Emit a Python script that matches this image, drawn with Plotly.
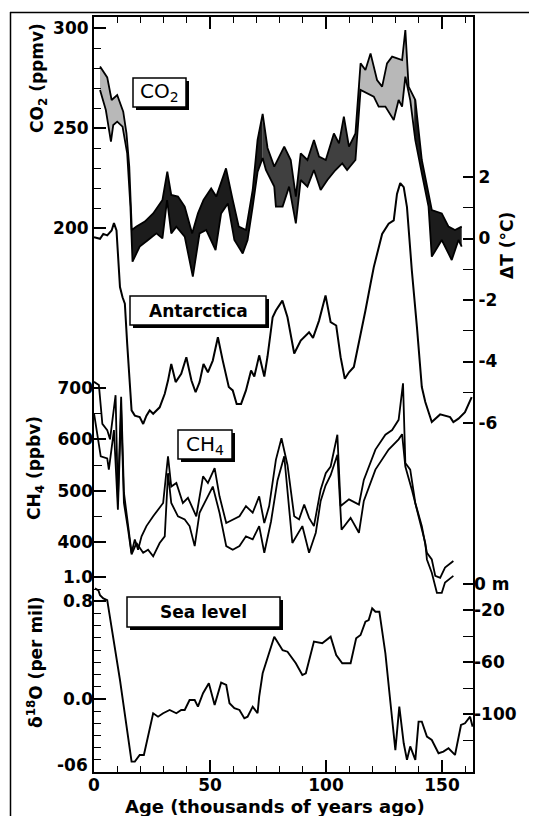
import numpy as np
import plotly.graph_objects as go

# ---------------- data ----------------
# CO2 envelope (ppmv) vs age (kyr BP)
co2_up_age = [2.6, 5.7, 7.6, 10.0, 12.6, 14.0, 15.2, 16.3, 18.3, 21.9, 25.5, 29.5, 31.6, 33.3, 36.2, 39.1,
              42.3, 44.8, 47.2, 50.5, 52.7, 56.9, 59.8, 62.4, 65.5, 68.4, 70.5, 72.7, 74.8, 77.7, 82.0, 84.8,
              87.0, 89.1, 92.0, 94.8, 97.0, 99.9, 103.4, 105.6, 107.7, 109.9, 112.7, 114.9, 117.0, 119.2,
              122.0, 124.2, 126.3, 128.5, 132.8, 134.2, 135.6, 138.5, 141.3, 143.5, 145.6, 149.9, 152.8,
              155.6, 158.5]
co2_up = [280.7, 275.3, 264.0, 266.5, 258.2, 247.3, 230.7, 199.0, 200.7, 203.2, 207.3, 214.0, 228.2, 216.5,
          215.7, 210.7, 197.3, 207.3, 214.0, 219.8, 215.7, 229.8, 214.0, 200.7, 199.0, 219.0, 244.0, 257.0,
          240.0, 230.7, 240.7, 234.0, 215.7, 237.3, 234.0, 244.0, 235.7, 234.0, 247.3, 242.3, 255.7, 240.7,
          247.3, 282.3, 279.0, 287.3, 274.0, 270.7, 282.3, 285.7, 284.0, 299.0, 270.7, 264.0, 234.0, 220.7,
          209.0, 207.3, 200.7, 199.0, 200.7]
co2_lo_age = [2.6, 5.1, 7.3, 8.3, 10.0, 12.3, 14.3, 15.7, 16.6, 19.7, 23.3, 26.9, 29.5, 31.5, 33.3, 35.5,
              39.1, 42.6, 45.5, 48.4, 52.4, 54.8, 57.7, 60.5, 64.1, 66.2, 68.4, 70.5, 72.7, 74.1, 77.7, 78.4,
              81.3, 84.1, 87.0, 89.1, 92.0, 94.8, 97.7, 100.6, 104.1, 107.0, 109.1, 112.7, 114.9, 117.7,
              120.6, 122.7, 125.6, 129.2, 131.3, 132.8, 134.2, 136.3, 138.5, 141.3, 144.2, 145.6, 149.9,
              154.2, 157.1, 158.5]
co2_lo = [269.0, 259.0, 243.2, 251.5, 253.2, 250.7, 237.3, 210.7, 183.2, 190.7, 194.0, 197.3, 194.8, 214.0,
          197.3, 200.7, 195.7, 175.7, 197.3, 199.0, 189.0, 207.3, 212.3, 194.0, 187.3, 194.0, 210.7, 228.0,
          235.0, 229.0, 220.7, 210.7, 210.7, 220.7, 202.3, 224.0, 220.7, 229.0, 219.0, 224.0, 229.0, 232.3,
          229.0, 234.0, 269.0, 267.3, 265.7, 260.7, 260.7, 254.0, 264.0, 260.7, 275.7, 264.0, 244.0, 227.3,
          210.7, 185.7, 194.0, 184.0, 194.0, 190.7]

# Antarctic temperature change (deg C)
dt_age = [0.0, 2.6, 4.0, 5.7, 7.6, 8.6, 9.7, 10.6, 11.2, 12.3, 13.3, 14.3, 15.4, 16.2, 17.6, 19.7, 21.2,
          22.6, 24.0, 25.5, 28.3, 30.5, 31.9, 33.3, 35.2, 37.6, 39.8, 42.0, 43.8, 45.5, 47.2, 49.1, 51.2,
          53.4, 55.5, 58.1, 59.8, 61.5, 63.4, 65.5, 67.7, 69.1, 71.2, 73.4, 74.8, 77.0, 78.4, 81.2, 83.4,
          86.3, 89.1, 92.7, 94.4, 97.0, 99.8, 102.0, 104.4, 106.3, 108.1, 109.9, 112.0, 114.2, 117.0,
          119.2, 120.6, 124.2, 127.0, 129.2, 130.6, 132.0, 133.5, 134.9, 136.3, 137.0, 139.2, 141.3,
          142.8, 145.6, 149.2, 151.3, 153.5, 154.9, 157.1, 159.9, 162.8]
dt_val = [0.04, -0.01, 0.15, 0.1, 0.26, 0.5, 0.26, -0.72, -1.58, -1.91, -2.12, -3.42, -4.83, -5.59, -5.76,
          -5.81, -6.03, -5.76, -5.59, -5.70, -5.49, -5.05, -4.62, -4.08, -4.67, -4.40, -3.86, -4.62, -5.0,
          -4.67, -4.08, -4.35, -3.97, -3.21, -3.97, -4.83, -4.94, -5.38, -5.38, -4.94, -4.29, -4.49, -3.80,
          -4.49, -3.83, -2.56, -2.34, -2.02, -2.56, -3.74, -3.32, -3.05, -3.23, -2.67, -1.85, -2.72, -2.83,
          -3.86, -4.56, -4.35, -4.18, -3.42, -2.34, -1.47, -0.93, 0.15, 0.48, 0.59, 1.45, 1.80, 1.67, 1.02,
          -0.50, -1.04, -2.88, -4.83, -5.32, -5.97, -5.72, -5.76, -5.81, -5.97, -5.86, -5.65, -5.16]

# CH4 (ppbv), two curves
ch4_up_age = [0.0, 2.1, 3.6, 5.7, 6.9, 9.3, 10.3, 11.7, 12.9, 14.7, 16.2, 17.6, 19.0, 20.5, 22.6, 25.5,
              29.8, 31.9, 33.3, 35.5, 38.3, 40.5, 44.1, 47.0, 49.1, 52.0, 54.1, 57.0, 59.8, 62.7, 65.5,
              68.4, 71.2, 73.4, 75.5, 78.4, 80.8, 83.4, 86.3, 88.4, 90.6, 92.7, 94.8, 97.7, 99.9, 102.0,
              104.9, 106.3, 109.9, 114.2, 116.3, 121.3, 125.6, 128.5, 131.3, 133.2, 134.2, 136.3, 138.5,
              141.3, 143.5, 145.6, 147.1, 149.2, 151.3, 154.9]
ch4_up = [712, 706, 630, 618, 600, 686, 483, 683, 496, 431, 379, 405, 385, 411, 431, 450, 476, 567, 508,
          515, 476, 486, 450, 528, 515, 544, 489, 437, 444, 450, 470, 457, 489, 437, 470, 560, 602, 550,
          450, 444, 473, 447, 431, 502, 534, 547, 609, 470, 483, 473, 521, 580, 609, 618, 638, 709, 554,
          541, 476, 431, 379, 366, 334, 330, 350, 363]
ch4_lo_age = [0.0, 2.9, 5.7, 6.4, 8.6, 10.3, 11.7, 12.9, 14.7, 16.2, 18.3, 21.2, 23.3, 25.5, 28.3, 30.5,
              31.9, 33.3, 36.2, 39.1, 41.2, 43.4, 45.5, 48.4, 51.2, 54.1, 57.0, 59.8, 62.7, 65.5, 68.4,
              71.2, 73.4, 76.3, 79.1, 82.0, 85.5, 89.8, 92.7, 95.6, 97.7, 99.8, 102.0, 104.9, 106.7, 110.6,
              114.2, 116.3, 121.3, 127.0, 131.3, 132.8, 134.2, 137.0, 139.9, 142.8, 143.5, 145.6, 147.8,
              149.9, 151.3, 154.9]
ch4_lo = [651, 567, 563, 541, 618, 463, 657, 476, 424, 376, 398, 379, 385, 372, 398, 411, 534, 476, 450,
          444, 431, 392, 457, 483, 508, 457, 392, 385, 392, 411, 405, 431, 379, 440, 520, 567, 398, 431,
          379, 418, 480, 510, 530, 570, 424, 447, 418, 480, 541, 580, 600, 610, 547, 502, 450, 398, 366,
          340, 301, 301, 321, 334]

# delta 18O (per mil) / sea level
d18o_age = [0.4, 1.9, 2.6, 4.0, 5.7, 11.2, 16.2, 17.6, 19.7, 21.5, 25.5, 27.6, 29.8, 32.6, 35.5, 37.6,
            39.1, 41.2, 43.4, 44.8, 47.0, 49.5, 52.0, 54.8, 57.0, 58.4, 60.5, 62.7, 64.8, 66.2, 68.4, 70.5,
            71.2, 72.7, 77.7, 81.3, 83.4, 87.0, 89.8, 91.3, 94.8, 98.4, 102.0, 104.4, 107.0, 110.6, 113.0,
            114.9, 117.0, 118.4, 119.9, 121.3, 123.0, 125.6, 127.8, 129.9, 131.6, 133.5, 134.9, 136.3,
            138.5, 139.9, 141.3, 143.5, 145.6, 148.5, 150.6, 152.8, 155.6, 158.2, 159.9, 162.1, 163.2]
d18o_val = [0.907, 0.89, 0.85, 0.825, 0.81, 0.155, -0.515, -0.515, -0.46, -0.46, -0.118, -0.146, -0.118,
            -0.091, -0.118, -0.091, -0.091, -0.009, -0.009, -0.064, 0.046, 0.128, -0.05, 0.133, 0.114,
            -0.036, -0.077, -0.091, -0.159, -0.146, -0.064, -0.118, 0.018, 0.21, 0.51, 0.40, 0.387, 0.292,
            0.196, 0.21, 0.47, 0.456, 0.51, 0.36, 0.292, 0.292, 0.497, 0.524, 0.633, 0.647, 0.743, 0.715,
            0.715, 0.374, -0.036, -0.42, -0.064, -0.364, -0.50, -0.39, -0.50, -0.187, -0.187, -0.31,
            -0.337, -0.446, -0.433, -0.405, -0.46, -0.214, -0.2, -0.146, -0.228]

# tick labels
x_ticks = [0, 50, 100, 150]
co2_ticks = [200, 250, 300]
dt_ticks = [2, 0, -2, -4, -6]
dt_text = ["2", "0", "-2", "-4", "-6"]
ch4_ticks = [400, 500, 600, 700]
d18o_ticks = [1.0, 0.8, 0.0]
d18o_text = ["1.0", "0.8", "0.0"]
d18o_bottom_label = "-06"
sl_ticks = [0, -20, -60, -100]
sl_text = ["0 m", "-20", "-60", "-100"]

# ---------------- layout geometry (window pixels) ----------------
WIN_W, WIN_H = 537, 816
OFF = 8                      # default page margin around the figure
W, H = WIN_W - OFF, WIN_H - OFF
L, R, T, B = 94, 473, 17, 772
FONT = "DejaVu Sans"


def yrange(v1, p1, v2, p2):
    s = (p2 - p1) / (v2 - v1)
    return [v1 + (B - p1) / s, v1 + (T - p1) / s]


def fx(p):
    return (p - L) / (R - L)


def fy(p):
    return (B - p) / (B - T)


x_max = (R - L) / 2.32

fig = go.Figure()

# CO2 band, shaded in segments
ua, uv = np.array(co2_up_age), np.array(co2_up)
la, lv = np.array(co2_lo_age), np.array(co2_lo)
segments = [(2.6, 16.2, "#b8b8b8"), (16.2, 72.7, "#1c1c1c"), (72.7, 114.6, "#404040"),
            (114.6, 138.0, "#b8b8b8"), (138.0, 158.5, "#1c1c1c")]
for a0, a1, col in segments:
    mu = (ua > a0) & (ua < a1)
    ml = (la > a0) & (la < a1)
    xs = [a0] + list(ua[mu]) + [a1, a1] + list(la[ml][::-1]) + [a0]
    ys = ([np.interp(a0, ua, uv)] + list(uv[mu]) + [np.interp(a1, ua, uv), np.interp(a1, la, lv)]
          + list(lv[ml][::-1]) + [np.interp(a0, la, lv)])
    fig.add_trace(go.Scatter(x=xs, y=ys, fill="toself", fillcolor=col, mode="lines",
                             line=dict(width=0, color=col), yaxis="y", hoverinfo="skip",
                             showlegend=False))
for xa, ya in [(co2_up_age, co2_up), (co2_lo_age, co2_lo)]:
    fig.add_trace(go.Scatter(x=xa, y=ya, mode="lines", line=dict(color="black", width=1.8),
                             yaxis="y", showlegend=False))

fig.add_trace(go.Scatter(x=dt_age, y=dt_val, mode="lines", line=dict(color="black", width=2),
                         yaxis="y2", showlegend=False))
fig.add_trace(go.Scatter(x=ch4_up_age, y=ch4_up, mode="lines", line=dict(color="black", width=1.8),
                         yaxis="y3", showlegend=False))
fig.add_trace(go.Scatter(x=ch4_lo_age, y=ch4_lo, mode="lines", line=dict(color="black", width=1.8),
                         yaxis="y3", showlegend=False))
fig.add_trace(go.Scatter(x=d18o_age, y=d18o_val, mode="lines", line=dict(color="black", width=1.9),
                         yaxis="y4", showlegend=False))
fig.add_trace(go.Scatter(x=[None], y=[None], mode="lines", yaxis="y5", showlegend=False,
                         hoverinfo="skip"))

tf = dict(family=FONT, size=17, color="black", weight="bold")
common = dict(showgrid=False, zeroline=False, ticks="inside", tickcolor="black", tickwidth=1.6,
              tickfont=tf, automargin=False, anchor="x", tickmode="array")

fig.update_layout(
    width=W, height=H, plot_bgcolor="white", paper_bgcolor="white",
    margin=dict(l=L - OFF, r=W - (R - OFF), t=T - OFF, b=H - (B - OFF)), showlegend=False,
    xaxis=dict(range=[0, x_max], showline=True, linecolor="black", linewidth=2, mirror="ticks",
               ticks="inside", ticklen=12, tickwidth=1.6, tickcolor="black", tickmode="array",
               tickvals=x_ticks, tickfont=tf, showgrid=False, zeroline=False, automargin=False,
               ticklabelstandoff=-3,
               minor=dict(tickmode="array", tickvals=[v for v in range(10, 161, 10) if v % 50],
                          ticklen=6, tickwidth=1.4, tickcolor="black", ticks="inside")),
    yaxis=dict(range=yrange(300, 28, 200, 228), side="left", showline=True, linecolor="black",
               linewidth=2, tickvals=co2_ticks, ticklen=12,
               minor=dict(tickmode="array", tickvals=[210, 220, 230, 240, 260, 270, 280, 290],
                          ticklen=7, tickwidth=1.4, tickcolor="black", ticks="inside"), **common),
    yaxis2=dict(range=yrange(2, 177, -6, 423), side="right", overlaying="y", showline=True,
                linecolor="black", linewidth=2, tickvals=dt_ticks, ticktext=dt_text, ticklen=10,
                minor=dict(tickmode="array", tickvals=[1, -1, -3, -5], ticklen=10, tickwidth=1.4,
                           tickcolor="black", ticks="inside"), **common),
    yaxis3=dict(range=yrange(700, 388, 400, 542), side="left", overlaying="y", showline=False,
                tickvals=ch4_ticks, ticklen=12,
                minor=dict(tickmode="array", tickvals=[450, 550, 650], ticklen=8, tickwidth=1.4,
                           tickcolor="black", ticks="inside"), **common),
    yaxis4=dict(range=yrange(1.0, 577, -0.6, 772), side="left", overlaying="y", showline=False,
                tickvals=d18o_ticks, ticktext=d18o_text, ticklen=12,
                minor=dict(tickmode="array",
                           tickvals=[-0.5, -0.4, -0.3, -0.2, -0.1, 0.1, 0.2, 0.3, 0.4, 0.5, 0.6, 0.7, 0.9],
                           ticklen=7, tickwidth=1.4, tickcolor="black", ticks="inside"), **common),
    yaxis5=dict(range=yrange(0, 584, -100, 714), side="right", overlaying="y", showline=False,
                tickvals=sl_ticks, ticktext=sl_text, ticklen=10,
                minor=dict(tickmode="array", tickvals=[-40, -80, -120], ticklen=10, tickwidth=1.4,
                           tickcolor="black", ticks="inside"), **common),
)

shapes = []
# outer frame (top and left edges)
shapes.append(dict(type="line", xref="paper", yref="paper", x0=fx(10), x1=fx(545), y0=fy(12.5), y1=fy(12.5),
                   line=dict(color="black", width=1.5)))
shapes.append(dict(type="line", xref="paper", yref="paper", x0=fx(10.5), x1=fx(10.5), y0=fy(12), y1=fy(830),
                   line=dict(color="black", width=1.5)))

annotations = []
boxes = [
    ("CO<sub>2</sub>", 133, 78, 186, 107, dict(family=FONT, size=20, color="black")),
    ("Antarctica", 130, 296, 266, 325, dict(family=FONT, size=17, color="black", weight="bold")),
    ("CH<sub>4</sub>", 178, 430, 232, 459, dict(family=FONT, size=20, color="black")),
    ("Sea level", 127, 597, 280, 627, dict(family=FONT, size=17, color="black", weight="bold")),
]
for text, x0, y0, x1, y1, font in boxes:
    shapes.append(dict(type="rect", xref="paper", yref="paper", x0=fx(x0 + 3), x1=fx(x1 + 3),
                       y0=fy(y0 + 3), y1=fy(y1 + 3), fillcolor="black", line=dict(width=0), layer="above"))
    shapes.append(dict(type="rect", xref="paper", yref="paper", x0=fx(x0), x1=fx(x1), y0=fy(y0), y1=fy(y1),
                       fillcolor="white", line=dict(color="black", width=1.5), layer="above"))
    annotations.append(dict(text=text, xref="paper", yref="paper", x=fx((x0 + x1) / 2),
                            y=fy((y0 + y1) / 2), xanchor="center", yanchor="middle", showarrow=False,
                            font=font))

# bottom delta-18O label (sits just above the corner, beside the x-axis "0")
annotations.append(dict(text=d18o_bottom_label, xref="paper", yref="paper", x=fx(90), y=fy(765),
                        xanchor="right", yanchor="middle", showarrow=False, font=tf))

tfont = dict(family=FONT, size=17, color="black", weight="bold")
titles = [
    ("CO<sub>2</sub> (ppmv)", 38, 78, -90, 17),
    ("CH<sub>4</sub> (ppbv)", 35, 468, -90, 17),
    ("δ<sup>18</sup>O (per mil)", 35, 662, -90, 17),
    ("ΔT (°C)", 507, 246, -90, 17),
    ("Age (thousands of years ago)", 275, 806, 0, 18),
]
for text, x, y, ang, sz in titles:
    annotations.append(dict(text=text, xref="paper", yref="paper", x=fx(x), y=fy(y), xanchor="center",
                            yanchor="middle", showarrow=False, textangle=ang,
                            font=dict(tfont, size=sz)))

fig.update_layout(shapes=shapes, annotations=annotations)
fig.write_html("out.html")
